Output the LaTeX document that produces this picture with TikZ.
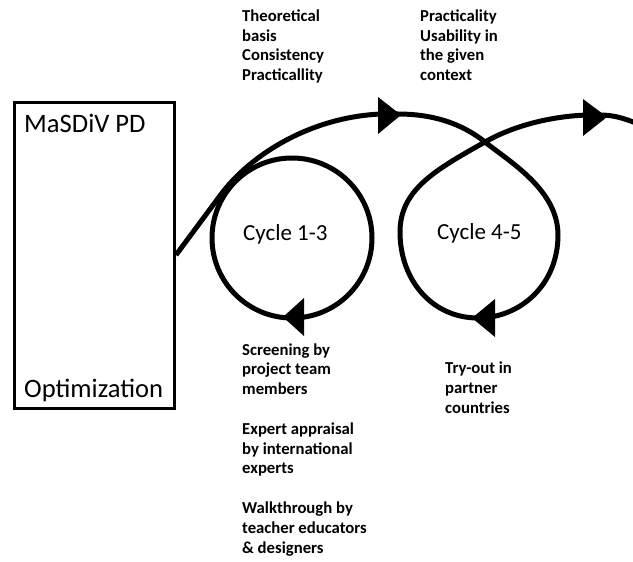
\documentclass[tikz,border=0pt]{standalone}
\usepackage{fontspec}
\setmainfont{Carlito}
\begin{document}
\begin{tikzpicture}[x=1pt,y=-1pt,
  curve/.style={line width=5pt},
  tip/.style={fill=black},
  big/.style={font=\fontsize{26.6}{30}\selectfont, inner sep=0pt, anchor=base west},
  cyc/.style={font=\fontsize{23}{27}\selectfont, inner sep=0pt, anchor=base west},
  note/.style={font=\bfseries\fontsize{16.7}{19.5}\selectfont, inner sep=0pt, anchor=base west, align=left}]
\useasboundingbox (0,0) rectangle (633,562);
% box
\node[draw, line width=3pt, minimum width=160pt, minimum height=306pt, inner sep=0pt] (box) at (94.5,255) {};
\node[big] (t1) at (24,132) {MaSDiV PD};
\node[big] (t2) at (24,397) {Optimization};
% cycle 1 circle
\node[circle, draw, line width=5pt, minimum size=160pt, inner sep=0pt] (c1) at (292,238) {};
\node[cyc] (l1) at (243,240) {Cycle 1-3};
\node[cyc] (l2) at (437,239) {Cycle 4-5};
% main path
\coordinate (s) at (box.east);
\coordinate (x) at (485,142);
\coordinate (e) at (636,123);
\draw[curve] (s) -- (222,193)
  .. controls (255,150) and (322,111) .. (398,114)
  .. controls (430,114) and (460,122) .. (x)
  .. controls (510,162) and (558,190) .. (558,235)
  .. controls (558,285) and (520,318) .. (478,318)
  .. controls (432,318) and (400,280) .. (400,232)
  .. controls (400,190) and (435,170) .. (x)
  .. controls (520,122) and (565,114) .. (600,115)
  .. controls (615,115) and (625,119) .. (e);
% arrowheads
\fill[tip] (401,115) -- (378,97) -- (378,134) -- cycle;
\fill[tip] (607,117) -- (583,99) -- (583,136) -- cycle;
\fill[tip] (472,318) -- (495,299) -- (495,337) -- cycle;
\fill[tip] (283,317) -- (304,298) -- (304,336) -- cycle;
% notes (anchored at the baseline of their last line)
\node[note] (n1) at (242,80) {Theoretical\\basis\\Consistency\\Practicallity};
\node[note] (n2) at (420,80) {Practicality\\Usability in\\the given\\context};
\node[note, font=\bfseries\fontsize{16.7}{19.8}\selectfont] (n3) at (242,553) {Screening by\\project team\\members\\[19.8pt]Expert appraisal\\by international\\experts\\[19.8pt]Walkthrough by\\teacher educators\\\& designers};
\node[note, font=\bfseries\fontsize{16.7}{20}\selectfont] (n4) at (445,413) {Try-out in\\partner\\countries};
\end{tikzpicture}
\end{document}
